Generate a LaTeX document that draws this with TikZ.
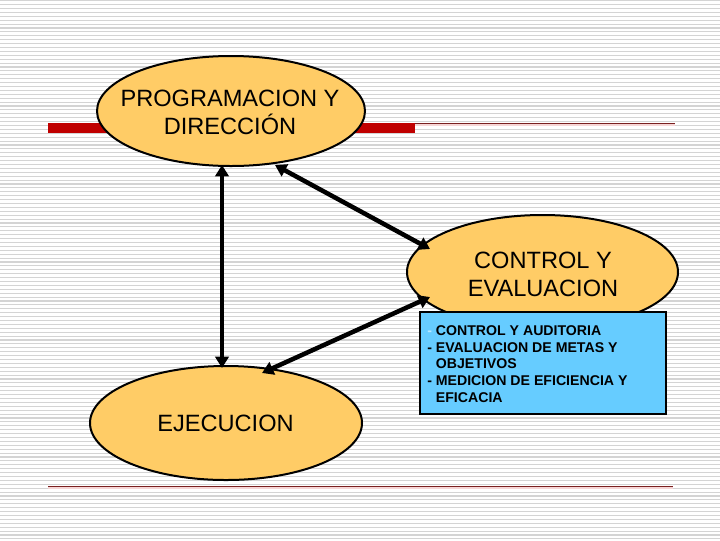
\documentclass[tikz,border=0pt]{standalone}
\usepackage{fontspec}
\setmainfont{Liberation Sans}
\usetikzlibrary{arrows.meta,shapes.geometric}
\definecolor{gridc}{HTML}{D4D4D4}
\definecolor{barred}{HTML}{C00000}
\definecolor{thinred}{HTML}{7A2020}
\definecolor{shadowpink}{HTML}{F6D6D6}
\definecolor{ellfill}{HTML}{FFCC66}
\definecolor{boxfill}{HTML}{66CCFF}
\definecolor{dashc}{HTML}{B8E8FF}
\begin{document}
\begin{tikzpicture}[x=0.75pt,y=-0.75pt,
  gridline/.style={gridc,line width=0.8pt},
  ell/.style={ellipse,draw=black,line width=1.5pt,fill=ellfill,inner sep=0pt,outer sep=0pt},
  etext/.style={align=center,font=\fontsize{17.7}{21}\selectfont,inner sep=0pt},
  btext/.style={align=left,font=\bfseries\fontsize{10.6}{12.45}\selectfont,inner sep=0pt},
  infobox/.style={draw=black,line width=1.5pt,fill=boxfill,inner sep=0pt,outer sep=0pt},
  arr/.style={line width=3.4pt,{Triangle[length=8.5pt,width=10pt]}-{Triangle[length=8.5pt,width=10pt]}},
  thinrule/.style={thinred,line width=0.9pt},
  ruleshadow/.style={shadowpink,line width=1.2pt}
]
\useasboundingbox (0,0) rectangle (720,540);
\fill[white] (0,0) rectangle (720,540);
% background ruled lines
\foreach \i in {0,...,138} {
  \draw[gridline] (0,0.7+3.9*\i) -- (720,0.7+3.9*\i);
}
% top red bar and rule
\fill[barred] (48,123) rectangle (415,133);
\draw[ruleshadow] (415,125) -- (675,125);
\draw[thinrule] (415,123.5) -- (675,123.5);
% bottom rule
\draw[ruleshadow] (48,488) -- (673,488);
\draw[thinrule] (48,486.5) -- (673,486.5);
% ellipses
\node[ell,minimum width=268*0.75pt,minimum height=110*0.75pt] (prog) at (231,111) {};
\node[ell,minimum width=271*0.75pt,minimum height=114*0.75pt] (ctrl) at (542.5,272) {};
\node[ell,minimum width=272*0.75pt,minimum height=114*0.75pt] (ejec) at (226,423) {};
% info box
\node[infobox,minimum width=246*0.75pt,minimum height=102*0.75pt] (box) at (543,363) {};
% texts
\node[etext] (progt) at (230,112) {PROGRAMACION Y\\DIRECCIÓN};
\node[etext] (ctrlt) at (543,274) {CONTROL Y\\EVALUACION};
\node[etext] (eject) at (225.5,423) {EJECUCION};
\node[btext,anchor=north west] (boxt) at (427,325.5) {{\color{dashc}-} CONTROL Y AUDITORIA\\
- EVALUACION DE METAS Y\\
\phantom{- }OBJETIVOS\\
- MEDICION DE EFICIENCIA Y\\
\phantom{- }EFICACIA};
% arrows
\draw[arr] ([shift={(-9,54)}]prog.center) -- ([shift={(-4,-55)}]ejec.center);
\draw[arr] ([shift={(44,54)}]prog.center) -- ([shift={(-112.5,-23)}]ctrl.center);
\draw[arr] ([shift={(-112.5,25)}]ctrl.center) -- ([shift={(36,-50)}]ejec.center);
\end{tikzpicture}
\end{document}
